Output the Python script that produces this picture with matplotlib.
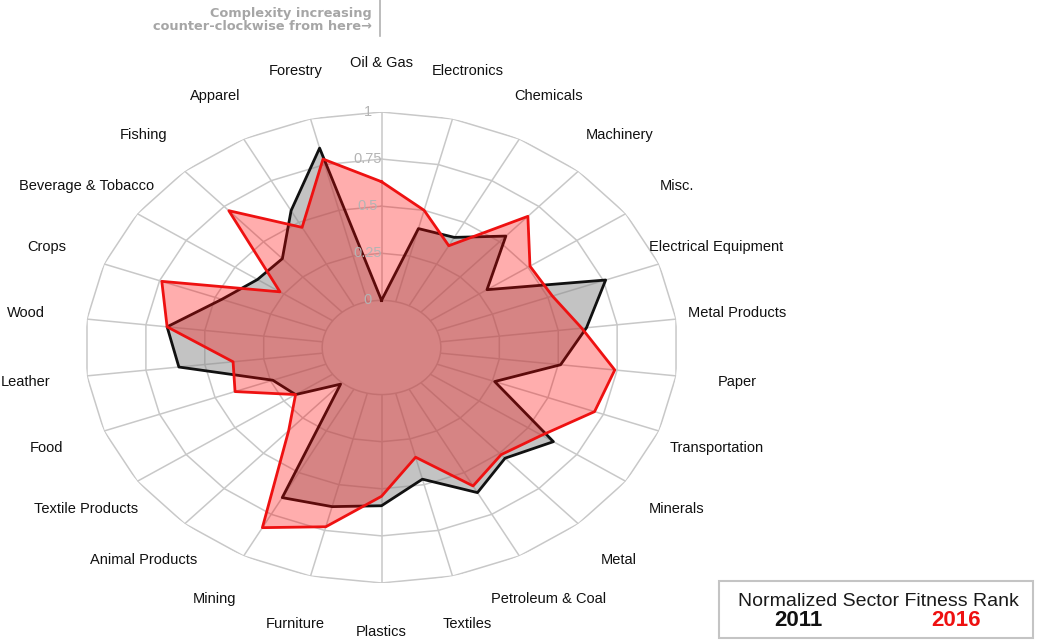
import numpy as np
import matplotlib as mplt
mplt.use('Agg')
import matplotlib.pyplot as plt
from matplotlib import transforms
from matplotlib.patches import Rectangle
from matplotlib.lines import Line2D

plt.rcParams['font.family'] = ['Liberation Sans', 'DejaVu Sans']

# sectors, clockwise from the top
sectors = ["Oil & Gas", "Electronics", "Chemicals", "Machinery", "Misc.",
           "Electrical Equipment", "Metal Products", "Paper", "Transportation",
           "Minerals", "Metal", "Petroleum & Coal", "Textiles", "Plastics",
           "Furniture", "Mining", "Animal Products", "Textile Products", "Food",
           "Leather", "Wood", "Crops", "Beverage & Tobacco", "Fishing",
           "Apparel", "Forestry"]

rank_2011 = [0.00, 0.40, 0.41, 0.54, 0.29, 0.76, 0.62, 0.51, 0.26, 0.63,
             0.535, 0.62, 0.47, 0.59, 0.62, 0.65, 0.01, 0.19, 0.24, 0.61,
             0.66, 0.47, 0.385, 0.38, 0.57, 0.84]
rank_2016 = [0.63, 0.50, 0.36, 0.68, 0.51, 0.52, 0.60, 0.74, 0.71, 0.57,
             0.51, 0.58, 0.35, 0.54, 0.73, 0.83, 0.34, 0.19, 0.41, 0.38,
             0.66, 0.74, 0.27, 0.72, 0.47, 0.78]

ring_levels = [0.25, 0.5, 0.75, 1.0]
ring_labels = ["0", "0.25", "0.5", "0.75", "1"]

n = len(sectors)
theta = np.arange(n) * 2 * np.pi / n
theta_closed = np.append(theta, theta[0])

fig = plt.figure(figsize=(10.37, 6.41), dpi=100)
ax = fig.add_axes([0.0818, 0.0905, 0.5722, 0.7348], projection='polar')
ax.set_aspect('auto')
ax.set_theta_zero_location('N')
ax.set_theta_direction(-1)
ax.set_ylim(0, 1)
ax.set_rorigin(-0.25)
ax.grid(False)
ax.set_xticks([])
ax.set_yticks([])
ax.patch.set_visible(False)

grid_col = '#c8c8c8'
for name, sp in ax.spines.items():
    if name == 'inner':
        # polar draw() turns this one back on, so style it as the hole edge
        sp.set_edgecolor(grid_col)
        sp.set_linewidth(1.1)
        sp.set_zorder(1)
    else:
        sp.set_visible(False)

# polygonal rings
for lev in ring_levels:
    ax.plot(theta_closed, [lev] * (n + 1), color=grid_col, lw=1.1, zorder=1)
# spokes
for t in theta:
    ax.plot([t, t], [0, 1], color=grid_col, lw=1.1, zorder=1)

def closed(vals):
    return np.append(vals, vals[0])

# 2011
ax.fill(theta_closed, closed(rank_2011), facecolor='#888888', alpha=0.5,
        edgecolor='none', zorder=2, clip_on=False)
ax.plot(theta_closed, closed(rank_2011), color='#111111', lw=2, zorder=3,
        clip_on=False)
# 2016
ax.fill(theta_closed, closed(rank_2016), facecolor='#ff0000', alpha=0.32,
        edgecolor='none', zorder=4, clip_on=False)
ax.plot(theta_closed, closed(rank_2016), color='#ee1111', lw=2, zorder=5,
        clip_on=False)

# radial tick labels along the top spoke
off = transforms.offset_copy(ax.transData, fig=fig, x=-14, y=0, units='dots')
for lev, lab in zip([0] + ring_levels, ring_labels):
    ax.text(0, lev, lab, transform=off, ha='center', va='center',
            fontsize=10.5, color='#b4b4b4', zorder=6)

# sector labels
for t, name in zip(theta, sectors):
    ax.text(t, 1.26, name, ha='center', va='center', fontsize=10.5,
            color='#111111', clip_on=False)

# note at the top
fig.text(372 / 1037, 1 - 13 / 641, "Complexity increasing", ha='right',
         va='center', fontsize=9.3, fontweight='bold', color='#a6a6a6',
         family='DejaVu Sans')
fig.text(372 / 1037, 1 - 26 / 641, "counter-clockwise from here\u2192",
         ha='right', va='center', fontsize=9.3, fontweight='bold',
         color='#a6a6a6', family='DejaVu Sans')
fig.add_artist(Line2D([380 / 1037, 380 / 1037], [1, 1 - 36 / 641],
                      color='#b0b0b0', lw=1.2))

# legend box
fig.add_artist(Rectangle((719 / 1037, 1 - 638 / 641), 314 / 1037, 57 / 641,
                         facecolor='white', edgecolor='#c4c4c4', lw=1.5))
fig.text(878 / 1037, 1 - 601 / 641, "Normalized Sector Fitness Rank",
         ha='center', va='center', fontsize=14, color='#1a1a1a')
fig.text(798 / 1037, 1 - 621 / 641, "2011", ha='center', va='center',
         fontsize=16, fontweight='bold', color='#111111')
fig.text(956 / 1037, 1 - 621 / 641, "2016", ha='center', va='center',
         fontsize=16, fontweight='bold', color='#ee1111')

fig.savefig("out.png", dpi=100)
